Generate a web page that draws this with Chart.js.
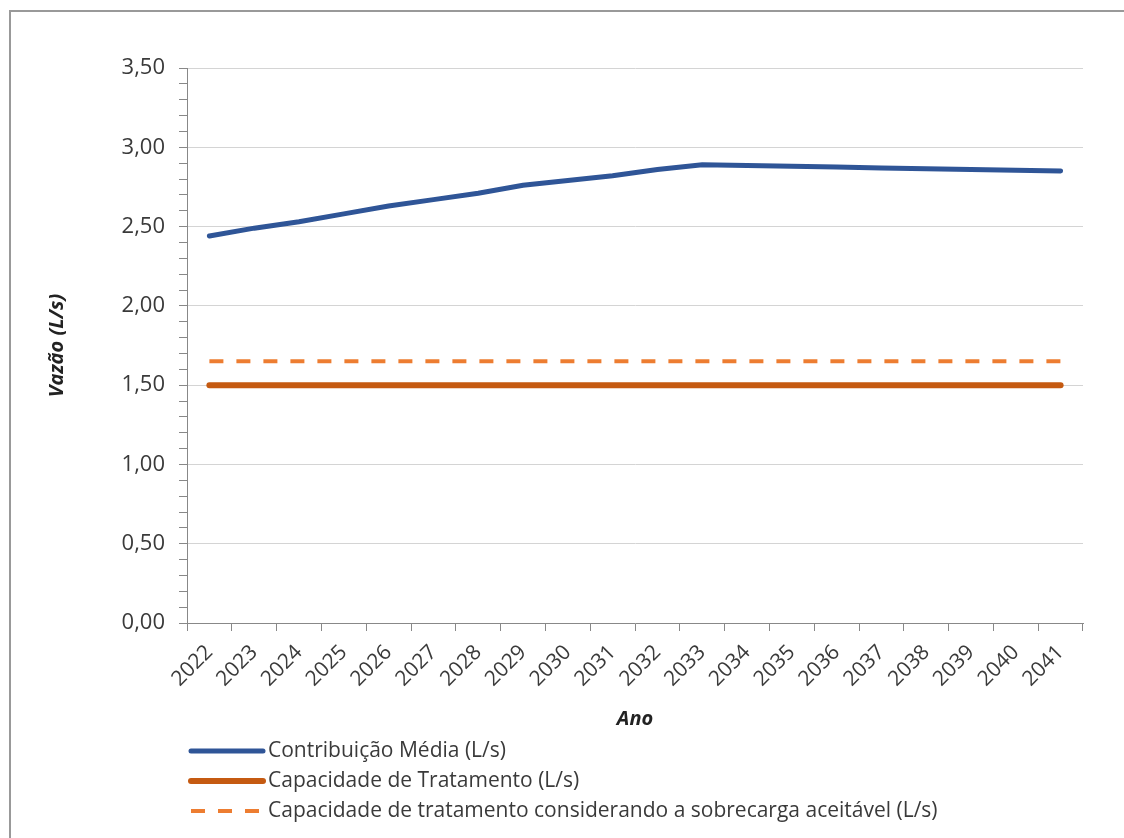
<!DOCTYPE html>
<html>
<head>
<meta charset="utf-8">
<script src="https://cdn.jsdelivr.net/npm/chart.js@4/dist/chart.umd.min.js"></script>
<style>
  body { margin: 0; background: #fff; }
  #moldura { position: absolute; left: 9px; top: 10px; width: 1200px; height: 900px;
             border-left: 2px solid #999; border-top: 2px solid #999; }
  #caixa { position: absolute; left: 0; top: 0; width: 1124px; height: 838px; }
</style>
</head>
<body>
<div id="moldura"></div>
<div id="caixa"><canvas id="MyChart"></canvas></div>
<script>
// anos do horizonte de projeto
const anos = ["2022","2023","2024","2025","2026","2027","2028","2029","2030","2031",
              "2032","2033","2034","2035","2036","2037","2038","2039","2040","2041"];

// vazoes (L/s)
const contribuicaoMedia = [2.44, 2.49, 2.53, 2.58, 2.63, 2.67, 2.71, 2.76, 2.79, 2.82,
                           2.86, 2.89, 2.885, 2.88, 2.875, 2.87, 2.865, 2.86, 2.855, 2.85];
const capacidadeTratamento = [1.50, 1.50, 1.50, 1.50, 1.50, 1.50, 1.50, 1.50, 1.50, 1.50,
                              1.50, 1.50, 1.50, 1.50, 1.50, 1.50, 1.50, 1.50, 1.50, 1.50];
const capacidadeSobrecarga = [1.65, 1.65, 1.65, 1.65, 1.65, 1.65, 1.65, 1.65, 1.65, 1.65,
                              1.65, 1.65, 1.65, 1.65, 1.65, 1.65, 1.65, 1.65, 1.65, 1.65];

const nomesSeries = ["Contribuição Média (L/s)",
                     "Capacidade de Tratamento (L/s)",
                     "Capacidade de tratamento considerando a sobrecarga aceitável (L/s)"];

const fonte = "'Open Sans', 'DejaVu Sans', sans-serif";
const corTexto = "#3a3a3a";

// legenda desenhada à mão, um item por linha, como no original
const legendaEmLinhas = {
  id: "legendaEmLinhas",
  afterDraw(chart) {
    const c = chart.ctx;
    const x0 = chart.chartArea.left + 2;
    const yBase = chart.scales.x.bottom + 18;
    chart.data.datasets.forEach((ds, i) => {
      const y = yBase + i * 30;
      c.save();
      c.strokeStyle = ds.borderColor;
      c.lineWidth = ds.borderWidth;
      c.setLineDash(ds.borderDash || []);
      c.lineCap = ds.borderDash ? "butt" : "round";
      c.beginPath();
      c.moveTo(x0 + 2, y);
      c.lineTo(x0 + 74, y);
      c.stroke();
      c.setLineDash([]);
      c.fillStyle = corTexto;
      c.font = "21px " + fonte;
      c.textBaseline = "middle";
      c.fillText(ds.label, x0 + 79, y);
      c.restore();
    });
  }
};

let ctx = document.getElementById("MyChart").getContext("2d");

let grafica = new Chart(ctx, {
  type: "line",
  data: {
    labels: anos,
    datasets: [
      {
        label: nomesSeries[0],
        data: contribuicaoMedia,
        borderColor: "#2F5597",
        borderWidth: 5,
        borderCapStyle: "round",
        pointRadius: 0,
        tension: 0
      },
      {
        label: nomesSeries[1],
        data: capacidadeTratamento,
        borderColor: "#C55A11",
        borderWidth: 6,
        borderCapStyle: "round",
        pointRadius: 0
      },
      {
        label: nomesSeries[2],
        data: capacidadeSobrecarga,
        borderColor: "#ED7D31",
        borderWidth: 4,
        borderDash: [14, 13],
        pointRadius: 0
      }
    ]
  },
  options: {
    responsive: true,
    maintainAspectRatio: false,
    animation: false,
    layout: { padding: { top: 68, right: 41, bottom: 105, left: 0 } },
    plugins: {
      legend: { display: false },
      tooltip: { enabled: false }
    },
    scales: {
      x: {
        offset: true,
        afterFit: s => { s.height = 110; },
        grid: { offset: true, drawOnChartArea: false, tickLength: 8, color: "#888" },
        border: { color: "#888" },
        ticks: {
          minRotation: 45, maxRotation: 45, autoSkip: false,
          color: corTexto, padding: 9,
          font: { family: fonte, size: 21 }
        },
        title: {
          display: true, text: "Ano", color: "#222",
          padding: { top: 0, bottom: 2 },
          font: { family: fonte, size: 20, weight: "bold", style: "italic" }
        }
      },
      y: {
        min: 0, max: 3.5,
        afterFit: s => { s.width = 187; },
        border: { color: "#888" },
        grid: {
          tickLength: 8,
          tickColor: "#888",
          color: c => (Math.round(c.tick.value * 100) % 50 === 0 ? "#d4d4d4" : "rgba(0,0,0,0)")
        },
        ticks: {
          stepSize: 0.1, autoSkip: false,
          color: corTexto, padding: 14,
          font: { family: fonte, size: 22 },
          callback: v => (Math.round(v * 100) % 50 === 0 ? v.toFixed(2).replace(".", ",") : "")
        },
        title: {
          display: true, text: "Vazão (L/s)", color: "#222",
          padding: { top: 45, bottom: 0 },
          font: { family: fonte, size: 20, weight: "bold", style: "italic" }
        }
      }
    }
  },
  plugins: [legendaEmLinhas]
});
</script>
</body>
</html>
